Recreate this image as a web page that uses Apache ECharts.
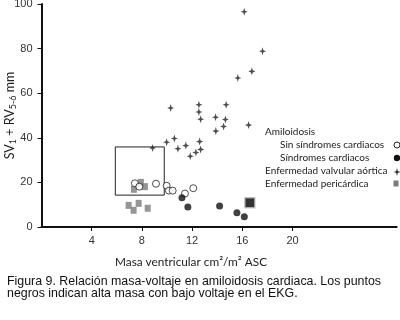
<!DOCTYPE html>
<html>
<head>
<meta charset="utf-8">
<script src="https://cdn.jsdelivr.net/npm/echarts@6/dist/echarts.min.js"></script>
<style>
html,body{margin:0;padding:0;background:#fff;}
#chart{width:400px;height:320px;}
</style>
</head>
<body>
<div id="chart"></div>
<script>
// datos: [masa, voltaje]
var sinSindromes = [[7.44,19.6],[7.79,18.1],[9.12,19.4],[9.97,18.5],[10.15,16.3],[10.45,16.3],[11.43,15.0],[12.09,17.4]];
var conSindromes = [[11.19,13.1],[11.66,9.0],[14.19,9.4],[15.57,6.4],[16.16,4.6]];
var valvular = [[10.29,53.4],[12.54,54.8],[12.54,51.6],[12.68,48.3],[14.71,54.8],[13.87,49.2],[14.65,48.2],[14.51,45.1],
	[13.89,43.0],[10.59,39.7],[9.97,38.0],[10.87,35.1],[11.50,36.5],[12.60,38.3],[12.68,34.8],[12.30,33.4],[11.85,31.7],
	[8.85,35.4],[16.15,96.5],[17.61,78.8],[16.76,69.8],[15.64,66.8],[16.50,45.7]];
var pericardica = [[7.36,16.9],[7.92,20.0],[8.24,18.1],[6.94,9.7],[7.34,7.5],[7.74,10.6],[8.46,8.4]];
var cuadroGrande = [[16.6,10.9]];
var recuadro = [[5.88,14.3],[9.78,35.9]];
var xTicks = [4,8,12,16,20];

var cruz = 'path://M5,0 L6.3,3.7 L10,5 L6.3,6.3 L5,10 L3.7,6.3 L0,5 L3.7,3.7 Z';
var fuente = 'Lato, "Liberation Sans", sans-serif';

//punto de la cruz para la leyenda
function cruzLeyenda(cx, cy){
	var p = [[0,-4],[0.8,-0.8],[3.5,0],[0.8,0.8],[0,4],[-0.8,0.8],[-3.5,0],[-0.8,-0.8]];
	var r = [];
	for(var i=0;i<p.length;i++){
		r.push([cx+p[i][0], cy+p[i][1]]);
	}
	return r;
}

function texto(x, y, t){
	return {type:'text', x:x, y:y, style:{text:t, verticalAlign:'middle', font:'10px ' + fuente, fill:'#222'}};
}

var chart = echarts.init(document.getElementById('chart'));

var option = {
	animation:false,
	backgroundColor:'#fff',
	grid:{left:41.5, right:3.3, top:4, bottom:93, outerBoundsMode:'none', containLabel:false},
	xAxis:{
		type:'value', min:0, max:28.3, interval:4,
		splitLine:{show:false},
		axisLine:{lineStyle:{color:'#111', width:2}},
		axisTick:{customValues:xTicks, length:4, lineStyle:{color:'#111', width:1}},
		axisLabel:{customValues:xTicks, margin:8, fontSize:11, color:'#333', fontFamily:'"Liberation Sans", Arial'}
	},
	yAxis:{
		type:'value', min:0, max:100, interval:20,
		splitLine:{show:false},
		axisLine:{show:true, lineStyle:{color:'#111', width:2}},
		axisTick:{show:true, length:4, lineStyle:{color:'#111', width:1}},
		axisLabel:{margin:9, fontSize:11, color:'#333', fontFamily:'"Liberation Sans", Arial'},
		name:'SV{s|1} + RV{s|5-6} mm',
		nameLocation:'middle', nameGap:24, nameMoveOverlap:false,
		nameTextStyle:{fontSize:12.5, color:'#222', fontFamily:fuente, lineHeight:16,
			rich:{s:{fontSize:9, fontFamily:fuente, color:'#222', verticalAlign:'bottom', lineHeight:16, padding:[5,0,0,0]}}}
	},
	series:[
		{
			name:'recuadro', type:'scatter', data:[], silent:true,
			markArea:{silent:true, itemStyle:{color:'rgba(0,0,0,0)', borderColor:'#222', borderWidth:1},
				data:[[{coord:recuadro[0]},{coord:recuadro[1]}]]}
		},
		{
			name:'Enfermedad pericárdica', type:'scatter', data:pericardica,
			symbol:'rect', symbolSize:[6,7], itemStyle:{color:'#7a7a7a'}
		},
		{
			name:'Enfermedad valvular aórtica', type:'scatter', data:valvular,
			symbol:cruz, symbolSize:[7,8], itemStyle:{color:'#222'}
		},
		{
			name:'Sin síndromes cardiacos', type:'scatter', data:sinSindromes,
			symbol:'circle', symbolSize:7, itemStyle:{color:'#fff', borderColor:'#222', borderWidth:1}
		},
		{
			name:'Síndromes cardiacos', type:'scatter', data:conSindromes,
			symbol:'circle', symbolSize:7, itemStyle:{color:'#111'}
		},
		{
			name:'cuadro', type:'scatter', data:cuadroGrande,
			symbol:'rect', symbolSize:10, itemStyle:{color:'#000', borderColor:'#bbb', borderWidth:1.5}
		}
	],
	graphic:[
		{type:'text', x:191, y:262, style:{text:'Masa ventricular cm²/m² ASC', align:'center', verticalAlign:'middle', font:'11.8px ' + fuente, fill:'#222'}},
		// leyenda
		texto(265, 132, 'Amiloidosis'),
		texto(280, 145, 'Sin síndromes cardiacos'),
		texto(280, 158, 'Síndromes cardiacos'),
		texto(265, 171, 'Enfermedad valvular aórtica'),
		texto(265, 184, 'Enfermedad pericárdica'),
		{type:'circle', shape:{cx:397, cy:145, r:3}, style:{fill:'#fff', stroke:'#222', lineWidth:1}},
		{type:'circle', shape:{cx:397, cy:158, r:3.2}, style:{fill:'#111'}},
		{type:'polygon', shape:{points:cruzLeyenda(397, 172)}, style:{fill:'#222'}},
		{type:'rect', shape:{x:393.5, y:180.5, width:5, height:6}, style:{fill:'#7a7a7a'}},
		// pie de figura
		{type:'text', x:7, y:281.5, style:{text:'Figura 9. Relación masa-voltaje en amiloidosis cardiaca. Los puntos', verticalAlign:'middle', font:'12.4px "Liberation Sans", Arial', fill:'#111'}},
		{type:'text', x:7, y:293.5, style:{text:'negros indican alta masa con bajo voltaje en el EKG.', verticalAlign:'middle', font:'12.4px "Liberation Sans", Arial', fill:'#111'}}
	]
};

chart.setOption(option);
</script>
</body>
</html>
